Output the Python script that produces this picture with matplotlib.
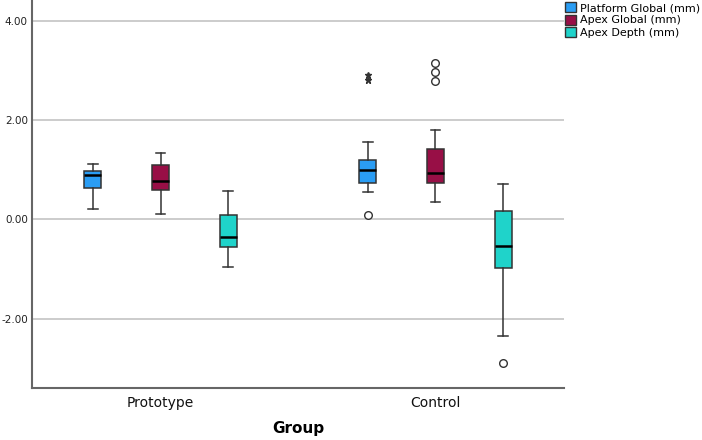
import matplotlib
matplotlib.use("Agg")
import matplotlib.pyplot as plt
from matplotlib.patches import Patch

groups = ["Prototype", "Control"]
series = ["Platform Global (mm)", "Apex Global (mm)", "Apex Depth (mm)"]
colors = ["#2a9df4", "#980f46", "#1fd3ca"]

# stats per group per series: (whislo, q1, med, q3, whishi)
prototype_stats = [
    (0.20, 0.64, 0.90, 0.97, 1.11),
    (0.11, 0.58, 0.78, 1.09, 1.33),
    (-0.95, -0.55, -0.36, 0.09, 0.56),
]
control_stats = [
    (0.55, 0.74, 0.99, 1.19, 1.55),
    (0.35, 0.74, 0.94, 1.41, 1.80),
    (-2.35, -0.98, -0.54, 0.17, 0.71),
]
prototype_outliers = [[], [], []]
control_outliers = [[0.08], [2.78, 2.97, 3.15], [-2.89]]
control_extremes = [[2.80, 2.90], [], []]

fig = plt.figure(figsize=(7.02, 4.40), dpi=100)
ax = fig.add_axes([32/702, 52/440, (564-32)/702, 388/440])

offsets = [-0.247, 0.0, 0.246]
all_stats = [prototype_stats, control_stats]
all_out = [prototype_outliers, control_outliers]
all_ext = [[[], [], []], control_extremes]

for gi in range(len(groups)):
    for si in range(len(series)):
        lo, q1, med, q3, hi = all_stats[gi][si]
        st = dict(whislo=lo, q1=q1, med=med, q3=q3, whishi=hi, fliers=all_out[gi][si])
        pos = gi + offsets[si]
        ax.bxp([st], positions=[pos], widths=0.062, patch_artist=True,
               showfliers=True, capwidths=[0.036],
               boxprops=dict(facecolor=colors[si], edgecolor="#333333", linewidth=1.1),
               medianprops=dict(color="black", linewidth=1.8),
               whiskerprops=dict(color="#333333", linewidth=1.1),
               capprops=dict(color="#333333", linewidth=1.1),
               flierprops=dict(marker="o", markerfacecolor="white", markeredgecolor="#333333",
                               markersize=5.5, markeredgewidth=1.0))
        ext = all_ext[gi][si]
        if ext:
            ax.plot([pos]*len(ext), ext, linestyle="none", marker="*", color="#333333",
                    markersize=5)

ax.set_xlim(-0.4675, 1.4675)
ax.set_ylim(-3.394, 4.413)
ax.set_yticks([-2, 0, 2, 4])
ax.set_yticklabels(["-2.00", "0.00", "2.00", "4.00"])
ax.set_xticks([0, 1])
ax.set_xticklabels(groups)
ax.yaxis.grid(True, color="#c8c8c8", linewidth=1.3)
ax.set_axisbelow(True)
ax.tick_params(axis="both", length=0)
ax.tick_params(axis="y", labelsize=7.5, pad=3, labelcolor="#222222")
ax.tick_params(axis="x", labelsize=10, pad=6, labelcolor="#111111")
ax.set_xlabel("Group", fontsize=11, fontweight="bold", labelpad=8)
for s in ["top", "right"]:
    ax.spines[s].set_visible(False)
for s in ["left", "bottom"]:
    ax.spines[s].set_color("#666666")
    ax.spines[s].set_linewidth(1.5)

handles = [Patch(facecolor=c, edgecolor="#333333", label=l) for c, l in zip(colors, series)]
fig.legend(handles=handles, loc="upper left", bbox_to_anchor=(563/702, 1.0), frameon=False,
           fontsize=8, handlelength=1.0, handleheight=1.0, handletextpad=0.3,
           labelspacing=0.15, borderpad=0.2, borderaxespad=0.0)

fig.savefig("out.png", dpi=100)
